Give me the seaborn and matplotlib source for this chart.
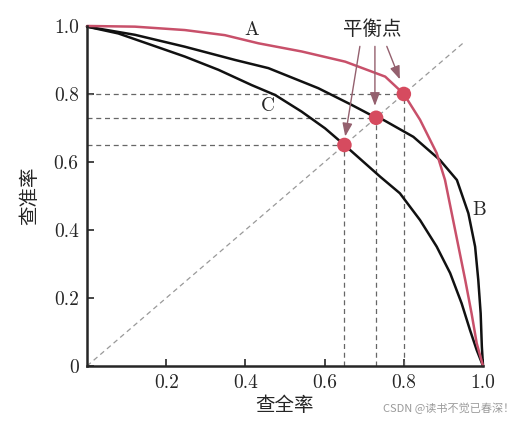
import numpy as np
import pandas as pd
import matplotlib
matplotlib.use("Agg")
import matplotlib.pyplot as plt
import seaborn as sns

# 曲线数据
a_recall = [0.0, 0.121, 0.247, 0.348, 0.433, 0.542, 0.652, 0.753, 0.80, 0.841, 0.883,
            0.904, 0.921, 0.938, 0.955, 0.971, 0.984, 1.0]
a_precision = [1.0, 0.998, 0.988, 0.973, 0.949, 0.925, 0.895, 0.851, 0.80, 0.724, 0.626,
               0.547, 0.449, 0.351, 0.253, 0.155, 0.067, 0.0]

b_recall = [0.0, 0.121, 0.247, 0.374, 0.458, 0.584, 0.668, 0.73, 0.748, 0.824, 0.891,
            0.934, 0.963, 0.98, 0.988, 0.994, 0.997, 1.0]
b_precision = [0.998, 0.974, 0.939, 0.90, 0.876, 0.817, 0.768, 0.73, 0.724, 0.674, 0.606,
               0.547, 0.449, 0.351, 0.253, 0.155, 0.057, 0.0]

c_recall = [0.0, 0.079, 0.163, 0.247, 0.332, 0.416, 0.475, 0.542, 0.601, 0.65, 0.74,
            0.79, 0.841, 0.883, 0.917, 0.946, 0.967, 0.984, 1.0]
c_precision = [0.998, 0.978, 0.944, 0.91, 0.871, 0.826, 0.797, 0.748, 0.699, 0.65, 0.557,
               0.508, 0.429, 0.351, 0.273, 0.184, 0.106, 0.047, 0.0]

# 平衡点 (C, B, A)
bep = [0.65, 0.73, 0.80]

x_ticks = [0.2, 0.4, 0.6, 0.8, 1.0]
x_ticklabels = ["0.2", "0.4", "0.6", "0.8", "1.0"]
y_ticks = [0.0, 0.2, 0.4, 0.6, 0.8, 1.0]
y_ticklabels = ["0", "0.2", "0.4", "0.6", "0.8", "1.0"]

sns.set_style("ticks")
plt.rcParams["font.family"] = ["cmr10", "DejaVu Serif"]
plt.rcParams["axes.unicode_minus"] = False

RED = "#c8506a"
DOT = "#d64b5f"
ARROW = "#94606e"
CJK = ["Noto Sans CJK SC", "DejaVu Sans"]

fig = plt.figure(figsize=(5.17, 4.23), dpi=100)
ax = fig.add_axes([0.1683, 0.1348, 0.766, 0.8038])

# 对角线与辅助虚线
diag = pd.DataFrame({"x": [0.0, 0.95], "y": [0.0, 0.95]})
sns.lineplot(data=diag, x="x", y="y", ax=ax, color="#999999", lw=0.9,
             linestyle=(0, (4, 3)), sort=False)
for v in bep:
    ax.plot([0, v], [v, v], color="#666666", lw=0.9, linestyle=(0, (4, 3)))
    ax.plot([v, v], [0, v], color="#666666", lw=0.9, linestyle=(0, (4, 3)))

# P-R 曲线
df_b = pd.DataFrame({"recall": b_recall, "precision": b_precision})
df_c = pd.DataFrame({"recall": c_recall, "precision": c_precision})
df_a = pd.DataFrame({"recall": a_recall, "precision": a_precision})
sns.lineplot(data=df_b, x="recall", y="precision", ax=ax, color="#111111",
             lw=1.8, sort=False, clip_on=False)
sns.lineplot(data=df_c, x="recall", y="precision", ax=ax, color="#111111",
             lw=1.8, sort=False, clip_on=False)
sns.lineplot(data=df_a, x="recall", y="precision", ax=ax, color=RED,
             lw=1.8, sort=False, clip_on=False)

# 平衡点
pts = pd.DataFrame({"x": bep, "y": bep})
sns.scatterplot(data=pts, x="x", y="y", ax=ax, s=110, color=DOT,
                edgecolor="none", zorder=6)

# 标注
ax.text(0.417, 0.988, "A", fontsize=14, ha="center", va="center")
ax.text(0.457, 0.765, "C", fontsize=14, ha="center", va="center")
ax.text(0.99, 0.459, "B", fontsize=14, ha="center", va="center")
ax.text(0.72, 0.99, "平衡点", fontsize=14, ha="center", va="center", family=CJK)

starts = [(0.689, 0.94), (0.727, 0.94), (0.757, 0.94)]
tips = [(0.652, 0.675), (0.727, 0.765), (0.79, 0.843)]
for (sx, sy), (tx, ty) in zip(starts, tips):
    ax.annotate("", xy=(tx, ty), xytext=(sx, sy),
                arrowprops=dict(arrowstyle="-|>,head_length=0.8,head_width=0.3",
                                color=ARROW, lw=1.0, shrinkA=0, shrinkB=0),
                zorder=7)

ax.set_xlim(0, 1)
ax.set_ylim(0, 1)
ax.set_xticks(x_ticks)
ax.set_xticklabels(x_ticklabels)
ax.set_yticks(y_ticks)
ax.set_yticklabels(y_ticklabels)
ax.tick_params(direction="in", length=5, width=1.2, labelsize=14, pad=6)
for s in ["top", "right"]:
    ax.spines[s].set_visible(False)
for s in ["left", "bottom"]:
    ax.spines[s].set_linewidth(1.8)
ax.set_xlabel("查全率", fontsize=14, family=CJK, labelpad=2)
ax.set_ylabel("查准率", fontsize=14, family=CJK, labelpad=10)

fig.text(0.74, 0.035, "CSDN @读书不觉已春深！", fontsize=8, color="#9a9a9a",
         ha="left", va="center", family=CJK)

fig.savefig("out.png", dpi=100)
